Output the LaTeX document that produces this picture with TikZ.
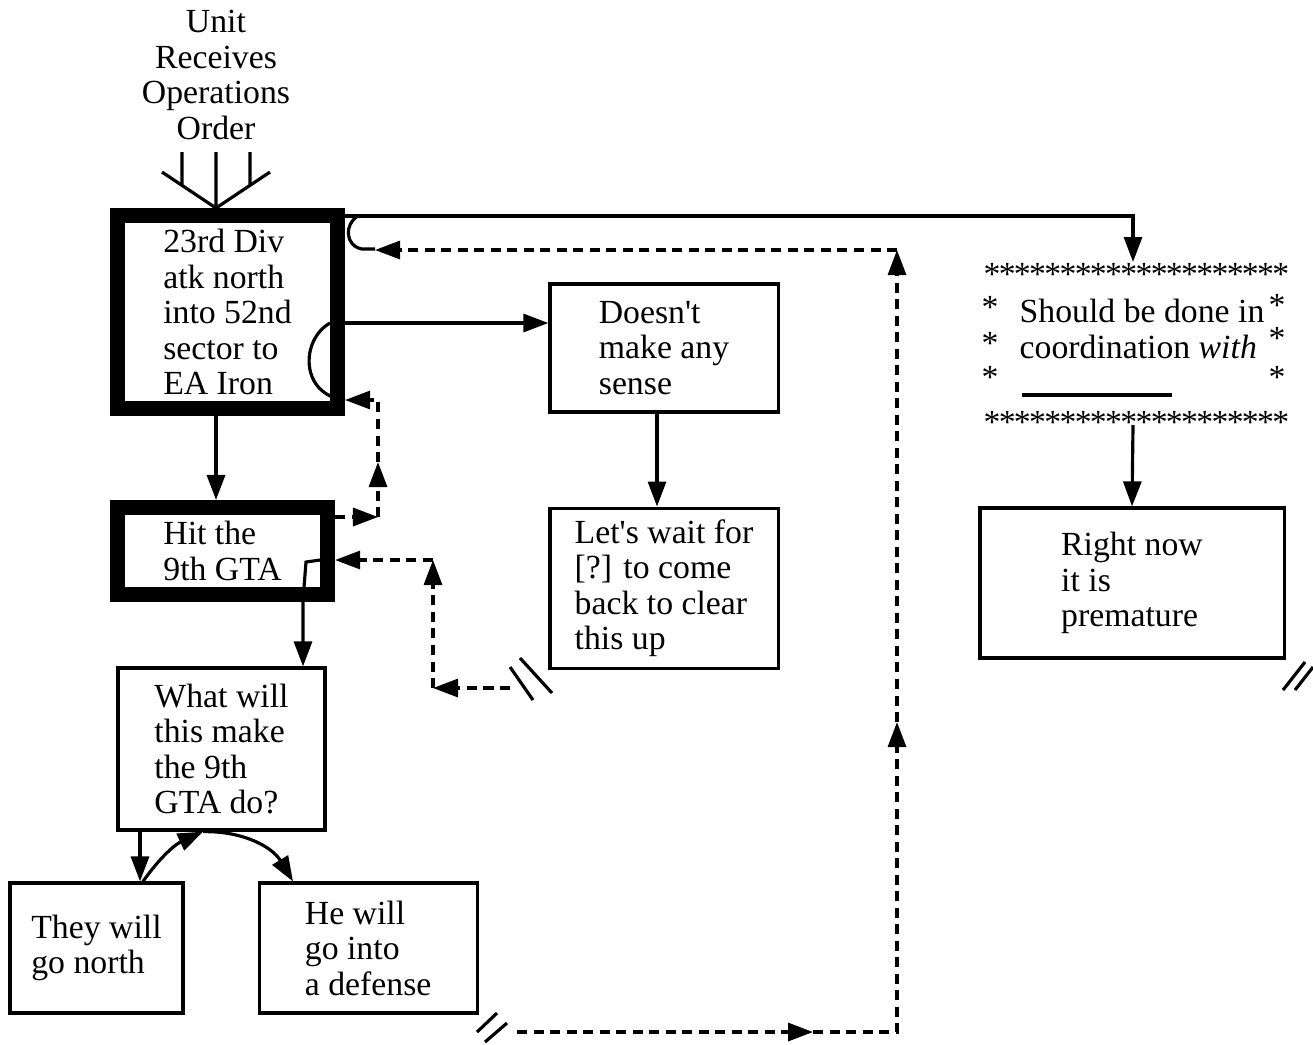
\documentclass[tikz,border=0pt]{standalone}
\usepackage{fontspec}
\setmainfont{Liberation Serif}
\usepackage{tikz}
\usetikzlibrary{positioning, arrows.meta}

\begin{document}
\begin{tikzpicture}[x=0.01cm, y=-0.01cm, on grid, font=\fontsize{9.6}{10.1}\selectfont, line width=0.9pt, >={Triangle[length=0.25cm,width=0.18cm]}, heavy/.style={draw, line width=0.15cm, inner sep=0pt, align=left}, plain/.style={draw, line width=0.9pt, inner sep=0pt, align=left}, dsh/.style={dash pattern=on 0.1cm off 0.065cm}, star/.style={inner sep=0pt, text height=1.2ex, text depth=0pt}]
\useasboundingbox (0,0) rectangle (1313,1044);
\node[align=center, inner sep=0pt] (order) at (216,75) {Unit\\Receives\\Operations\\Order};
\node[heavy, minimum width=2.2cm, minimum height=1.93cm] (div) at (227.5,312) {23rd Div\\atk north\\into 52nd\\sector to\\EA Iron};
\node[heavy, minimum width=2.1cm, minimum height=0.87cm] (hit) at (222.5,551) {Hit the\\9th GTA};
\node[plain, minimum width=2.28cm, minimum height=1.28cm] (sense) at (664,348) {Doesn\textquotesingle t\\make any\\sense};
\node[plain, minimum width=2.28cm, minimum height=1.6cm] (wait) [below=2.4cm of sense] {Let\textquotesingle s wait for\\{[?]} to come\\back to clear\\this up};
\node[plain, minimum width=2.07cm, minimum height=1.62cm] (what) at (221.5,749) {What will\\this make\\the 9th\\GTA do?};
\node[plain, minimum width=1.73cm, minimum height=1.3cm] (north) at (96.5,948) {They will\\go north};
\node[plain, minimum width=2.18cm, minimum height=1.3cm] (defense) [right=2.715cm of north] {He will\\go into\\a defense};
\node[plain, minimum width=3.04cm, minimum height=1.5cm] (now) at (1132,583) {Right now\\it is\\premature};
\node[align=left, inner sep=0pt] (coord) at (1142,329) {Should be done in\\coordination \textit{with}};
\coordinate (fork) at (216,208);
\coordinate (astTop) at (1133,262);
\coordinate (astBot) at (1133,425);
\foreach \i in {0,...,19} {
  \node[star] at (992+\i*15.2,276) {*};
  \node[star] at (992+\i*15.2,424) {*};
}
\foreach \y in {309,345,379} \node[star] at (990,\y) {*};
\foreach \y in {307,340,379} \node[star] at (1277,\y) {*};
\draw (216,152) -- (fork) (182,152) -- (182,184) (250,152) -- (250,184) (162,172) -- (fork) -- (270,172);
\draw[->] (div.east |- 0,216) -| (astTop);
\draw (375,249) -- (362,249) .. controls (345,246) and (344,224) .. (358,216);
\draw[->] (div.east |- 0,323) -- (sense.west |- 0,323);
\draw (330,323) .. controls (300,340) and (300,395) .. (div.east |- 0,400);
\draw[->] (div.south -| 216,0) -- (hit.north -| 216,0);
\draw[dsh,->] (hit.east |- 0,517) -- (378,517);
\draw[dsh,->] (378,517) -- (378,462);
\draw[dsh,->] (378,462) -- (378,400) -- (div.east |- 0,400);
\draw[->] (320,560) -- (306,562) -- (303,600) -- (what.north -| 303,0);
\draw[dsh,->] (510,688) -- (433,688);
\draw[dsh,->] (433,688) -- (433,560);
\draw[dsh,->] (433,560) -- (hit.east |- 0,560);
\draw (510,667) -- (533,700) (520,658) -- (552,693);
\draw[->] (sense.south -| 657,0) -- (wait.north -| 657,0);
\draw[->] (what.south -| 140,0) -- (north.north -| 140,0);
\draw[->] (north.north -| 143,0) to[bend left=15] (what.south -| 203,0);
\draw[->] (what.south -| 203,0) to[bend left=30] (defense.north -| 293,0);
\draw (477,1032) -- (497,1013) (485,1042) -- (507,1023);
\draw[dsh,->] (517,1032) -- (813,1032);
\draw[dsh,->] (813,1032) -- (897,1032) -- (897,722);
\draw[dsh,->] (897,722) -- (897,250);
\draw[dsh,->] (897,250) -- (375,250);
\draw[->] (astBot) -- (now.north);
\draw (1022,395) -- (1172,395);
\draw (1283,690) -- (1305,662) (1295,690) -- (1313,667);
\end{tikzpicture}
\end{document}
